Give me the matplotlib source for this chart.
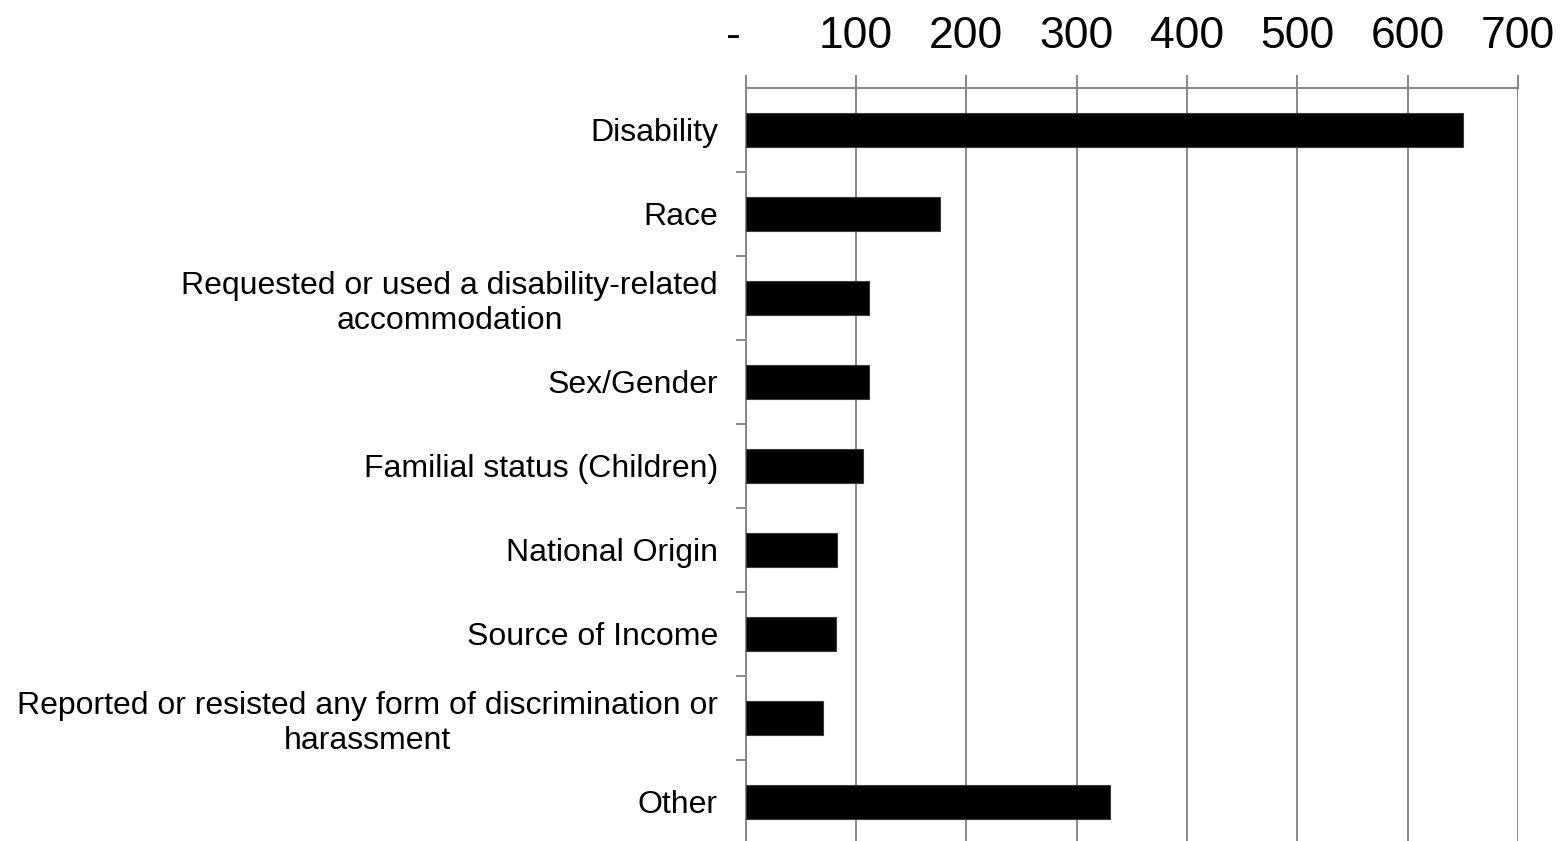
import matplotlib
matplotlib.use('Agg')
matplotlib.rcParams['font.family'] = ['Liberation Sans', 'DejaVu Sans']
import matplotlib.pyplot as plt
import numpy as np

# Categories (top to bottom) and counts
CATEGORIES = [
    'Disability',
    'Race',
    'Requested or used a disability-related\naccommodation',
    'Sex/Gender',
    'Familial status (Children)',
    'National Origin',
    'Source of Income',
    'Reported or resisted any form of discrimination or\nharassment',
    'Other',
]
COUNTS = [650, 176, 112, 112, 106, 83, 82, 70, 330]
X_TICKS = [0, 100, 200, 300, 400, 500, 600, 700]
X_TICK_LABELS = ['-  ', '100', '200', '300', '400', '500', '600', '700']

GRID = '#878787'
W, H, DPI = 1563, 841, 100

fig = plt.figure(figsize=(W / DPI, H / DPI), dpi=DPI)
ax = fig.add_axes([745.7 / W, 1 - 844 / H, (1517.8 - 745.7) / W, (844 - 88) / H])

y = np.arange(len(CATEGORIES))
ax.barh(y, COUNTS, height=0.4, color='black', edgecolor='#3a3a3a',
        linewidth=0.8, zorder=3)

ax.set_xlim(0, 700)
ax.set_ylim(len(CATEGORIES) - 0.5, -0.5)

ax.xaxis.tick_top()
ax.set_xticks(X_TICKS)
ax.set_xticklabels(X_TICK_LABELS)
ax.tick_params(axis='x', which='major', labelsize=32, length=9.5,
               width=1.4, color=GRID, pad=13, direction='out')
ax.grid(axis='x', color=GRID, linewidth=1.4, zorder=0)
ax.set_axisbelow(True)

ax.set_yticks(y)
ax.set_yticklabels(CATEGORIES, multialignment='center')
ax.set_yticks(np.arange(0.5, len(CATEGORIES) - 1, 1.0), minor=True)
ax.tick_params(axis='y', which='major', length=0, labelsize=23, pad=20)
ax.tick_params(axis='y', which='minor', length=7.5, width=1.4,
               color=GRID, direction='out')

for side in ('bottom', 'right'):
    ax.spines[side].set_visible(False)
for side in ('top', 'left'):
    ax.spines[side].set_color(GRID)
    ax.spines[side].set_linewidth(1.4)

fig.savefig('out.png', dpi=DPI)
